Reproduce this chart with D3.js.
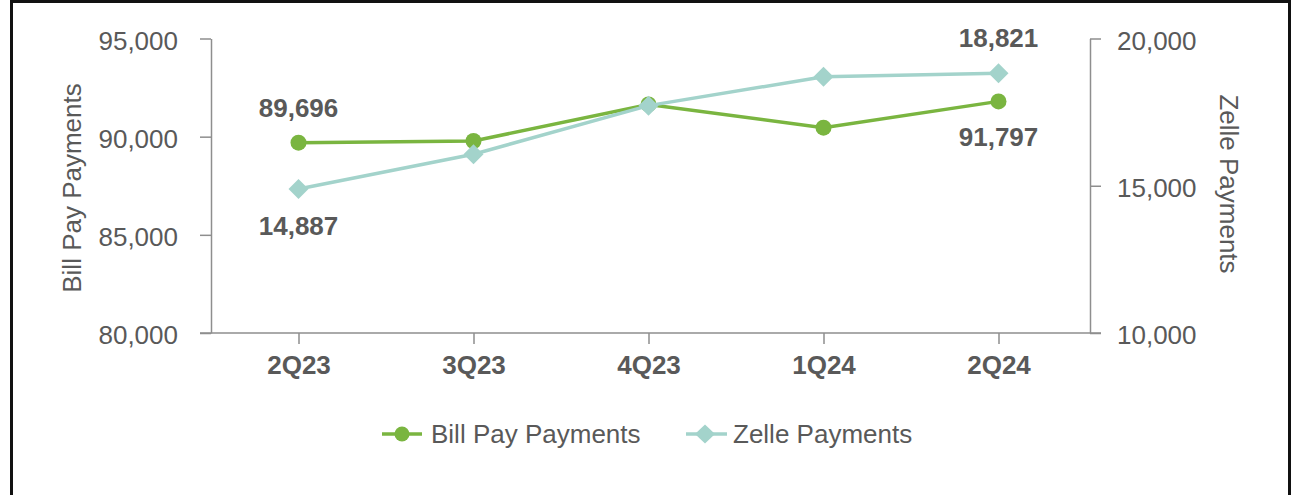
<!DOCTYPE html>
<html>
<head>
<meta charset="utf-8">
<script src="https://cdn.jsdelivr.net/npm/d3@7"></script>
<style>
  html, body { margin: 0; padding: 0; background: #fff; }
  svg { display: block; font-family: "Liberation Sans", Arial, sans-serif; }
</style>
</head>
<body>
<script>
// values
var quarters = ["2Q23", "3Q23", "4Q23", "1Q24", "2Q24"];
var billPay  = [89696, 89780, 91640, 90460, 91797];
var zelle    = [14887, 16070, 17720, 18700, 18821];
var leftTicks  = [80000, 85000, 90000, 95000];
var rightTicks = [10000, 15000, 20000];

var W = 1299, H = 495;
var GREEN = "#7ab540", TEAL = "#a3d3cb", TXT = "#595959", AXIS = "#8e8e8e";

var svg = d3.select("body").append("svg")
    .attr("width", W).attr("height", H);

// frame
svg.append("rect")
    .attr("x", 11.5).attr("y", 1.5)
    .attr("width", 1278).attr("height", H + 10)
    .attr("fill", "#fff").attr("stroke", "#111").attr("stroke-width", 3);

var x = d3.scalePoint().domain(quarters).range([211, 1086]).padding(0.5);
var yL = d3.scaleLinear().domain([80000, 95000]).range([333, 38.5]);
var yR = d3.scaleLinear().domain([10000, 20000]).range([333, 38.5]);
var fmt = d3.format(",");

// left axis
var gL = svg.append("g").attr("transform", "translate(211,0)")
    .call(d3.axisLeft(yL).tickValues(leftTicks).tickFormat(fmt)
      .tickSize(11).tickPadding(22).tickSizeOuter(0));
// right axis
var gR = svg.append("g").attr("transform", "translate(1090,0)")
    .call(d3.axisRight(yR).tickValues(rightTicks).tickFormat(fmt)
      .tickSize(11).tickPadding(16).tickSizeOuter(0));
[gL, gR].forEach(function (g) {
  g.select(".domain").attr("stroke", AXIS).attr("stroke-width", 1.5);
  g.selectAll(".tick line").attr("stroke", AXIS).attr("stroke-width", 1.5);
  g.selectAll(".tick text").attr("fill", TXT)
    .style("font-size", "26px").attr("dy", "0.42em");
});

// bottom axis
var gB = svg.append("g").attr("transform", "translate(0,333)")
    .call(d3.axisBottom(x).tickSize(11).tickSizeOuter(0));
gB.select(".domain").remove();
gB.append("line").attr("x1", 200).attr("x2", 1101)
    .attr("stroke", AXIS).attr("stroke-width", 1.5);
gB.selectAll(".tick line").attr("stroke", AXIS).attr("stroke-width", 1.5);
gB.selectAll(".tick text").attr("fill", TXT)
    .style("font-size", "26px").style("font-weight", "bold")
    .attr("y", 41).attr("dy", 0);

// axis titles
svg.append("text")
    .attr("transform", "translate(81,188) rotate(-90)")
    .attr("text-anchor", "middle").attr("fill", TXT)
    .style("font-size", "26px").text("Bill Pay Payments");
svg.append("text")
    .attr("transform", "translate(1220,184) rotate(90)")
    .attr("text-anchor", "middle").attr("fill", TXT)
    .style("font-size", "26px").text("Zelle Payments");

// series
var lineL = d3.line().x(function (d, i) { return x(quarters[i]); })
    .y(function (d) { return yL(d); });
var lineR = d3.line().x(function (d, i) { return x(quarters[i]); })
    .y(function (d) { return yR(d); });

svg.append("path").datum(billPay).attr("d", lineL)
    .attr("fill", "none").attr("stroke", GREEN).attr("stroke-width", 3.5);
svg.selectAll(".dotB").data(billPay).enter().append("circle")
    .attr("cx", function (d, i) { return x(quarters[i]); })
    .attr("cy", function (d) { return yL(d); })
    .attr("r", 8).attr("fill", GREEN);

var diamond = d3.symbol().type(d3.symbolSquare).size(200);
svg.append("path").datum(zelle).attr("d", lineR)
    .attr("fill", "none").attr("stroke", TEAL).attr("stroke-width", 3.5);
svg.selectAll(".dotZ").data(zelle).enter().append("path")
    .attr("d", diamond)
    .attr("transform", function (d, i) {
      return "translate(" + x(quarters[i]) + "," + yR(d) + ") rotate(45)";
    })
    .attr("fill", TEAL);

// data labels (first and last point of each series)
function label(v, px, py, dy) {
  svg.append("text").attr("x", px).attr("y", py + dy)
    .attr("text-anchor", "middle").attr("fill", TXT)
    .style("font-size", "26px").style("font-weight", "bold")
    .text(fmt(v));
}
var last = quarters.length - 1;
label(billPay[0], x(quarters[0]), yL(billPay[0]), -26);
label(billPay[last], x(quarters[last]), yL(billPay[last]), 45);
label(zelle[0], x(quarters[0]), yR(zelle[0]), 46);
label(zelle[last], x(quarters[last]), yR(zelle[last]), -26);

// legend
var lg = svg.append("g");
lg.append("line").attr("x1", 382).attr("x2", 422).attr("y1", 434).attr("y2", 434)
    .attr("stroke", GREEN).attr("stroke-width", 3.5);
lg.append("circle").attr("cx", 402).attr("cy", 434).attr("r", 7.5)
    .attr("fill", GREEN);
lg.append("text").attr("x", 431).attr("y", 442.5).attr("fill", TXT)
    .style("font-size", "26px").text("Bill Pay Payments");
lg.append("line").attr("x1", 686).attr("x2", 727).attr("y1", 434).attr("y2", 434)
    .attr("stroke", TEAL).attr("stroke-width", 3.5);
lg.append("path").attr("d", "M705,424.5L715,434L705,443.5L695,434Z")
    .attr("fill", TEAL);
lg.append("text").attr("x", 733).attr("y", 442.5).attr("fill", TXT)
    .style("font-size", "26px").text("Zelle Payments");
</script>
</body>
</html>
